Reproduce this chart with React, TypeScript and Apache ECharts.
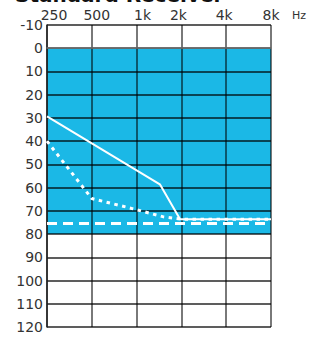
import React, { useEffect, useRef } from "react";
import * as echarts from "echarts";

const freqLabels = ["250", "500", "1k", "2k", "4k", "8k"];
const titleText = "Standard Receiver";
const unitText = "Hz";
const bandRange = [0, 80];
// x in octaves above 250 Hz, y in dB
const solidLine = [
  [0, 29.3],
  [2.52, 58.6],
  [2.97, 73.6],
  [5, 73.6],
];
const dottedLine = [
  [0, 40],
  [1, 64.7],
  [2, 69.5],
  [2.6, 72.6],
  [3, 73.6],
  [5, 73.6],
];
const dashedLine = [
  [0, 75.4],
  [5, 75.4],
];

const FONT = "DejaVu Sans";
const labelShift = [7, 5, 6, -3, -2, 0];

export default function App() {
  const ref = useRef<HTMLDivElement>(null);
  useEffect(() => {
    if (!ref.current) return;
    const chart = echarts.init(ref.current, null, { renderer: "svg" });
    const rich: Record<string, any> = {};
    labelShift.forEach((s, i) => {
      rich["l" + i] = {
        fontFamily: FONT,
        fontSize: 14,
        color: "#333",
        padding: s >= 0 ? [0, 0, 0, 2 * s] : [0, -2 * s, 0, 0],
      };
    });
    chart.setOption({
      animation: false,
      grid: { left: 47, right: 43, top: 25, bottom: 10, containLabel: false },
      graphic: [
        {
          type: "text",
          left: 15,
          top: -15,
          style: {
            text: titleText,
            font: `bold 20px "${FONT}"`,
            fill: "#111",
          },
        },
        {
          type: "text",
          left: 292,
          top: 10,
          style: {
            text: unitText,
            font: `11px "${FONT}"`,
            fill: "#333",
          },
        },
      ],
      xAxis: {
        type: "value",
        position: "top",
        z: 2,
        min: 0,
        max: freqLabels.length - 1,
        interval: 1,
        axisLine: { show: true, lineStyle: { color: "#777", width: 1.5 } },
        axisTick: { show: false },
        axisLabel: {
          margin: 3,
          formatter: (v: number) => {
            const i = Math.round(v);
            return `{l${i}|${freqLabels[i]}}`;
          },
          rich,
        },
        splitLine: {
          show: true,
          lineStyle: { color: "rgba(0,0,0,0.7)", width: 1.5 },
        },
      },
      yAxis: {
        type: "value",
        inverse: true,
        z: 2,
        min: -10,
        max: 120,
        interval: 10,
        axisLine: { show: true, lineStyle: { color: "#222", width: 1.5 } },
        axisTick: { show: false },
        axisLabel: {
          margin: 4,
          fontFamily: FONT,
          fontSize: 14,
          color: "#333",
        },
        splitLine: {
          show: true,
          lineStyle: { color: "rgba(0,0,0,0.85)", width: 1.5 },
        },
      },
      series: [
        {
          type: "line",
          data: [],
          z: 1,
          silent: true,
          markArea: {
            silent: true,
            itemStyle: { color: "#1bb8e6", opacity: 1 },
            data: [[{ yAxis: bandRange[0] }, { yAxis: bandRange[1] }]],
          },
        },
        {
          type: "line",
          data: dashedLine,
          z: 3,
          symbol: "none",
          silent: true,
          lineStyle: { color: "#fff", width: 3, type: [10, 6] },
        },
        {
          type: "line",
          data: dottedLine,
          z: 3,
          symbol: "none",
          silent: true,
          lineStyle: { color: "#fff", width: 3, type: [3.5, 4.5] },
        },
        {
          type: "line",
          data: solidLine,
          z: 3,
          symbol: "none",
          silent: true,
          lineStyle: { color: "#fff", width: 2 },
        },
      ],
    });
    return () => chart.dispose();
  }, []);
  return <div ref={ref} style={{ width: 314, height: 337, position: "absolute", left: 0, top: 0 }} />;
}
